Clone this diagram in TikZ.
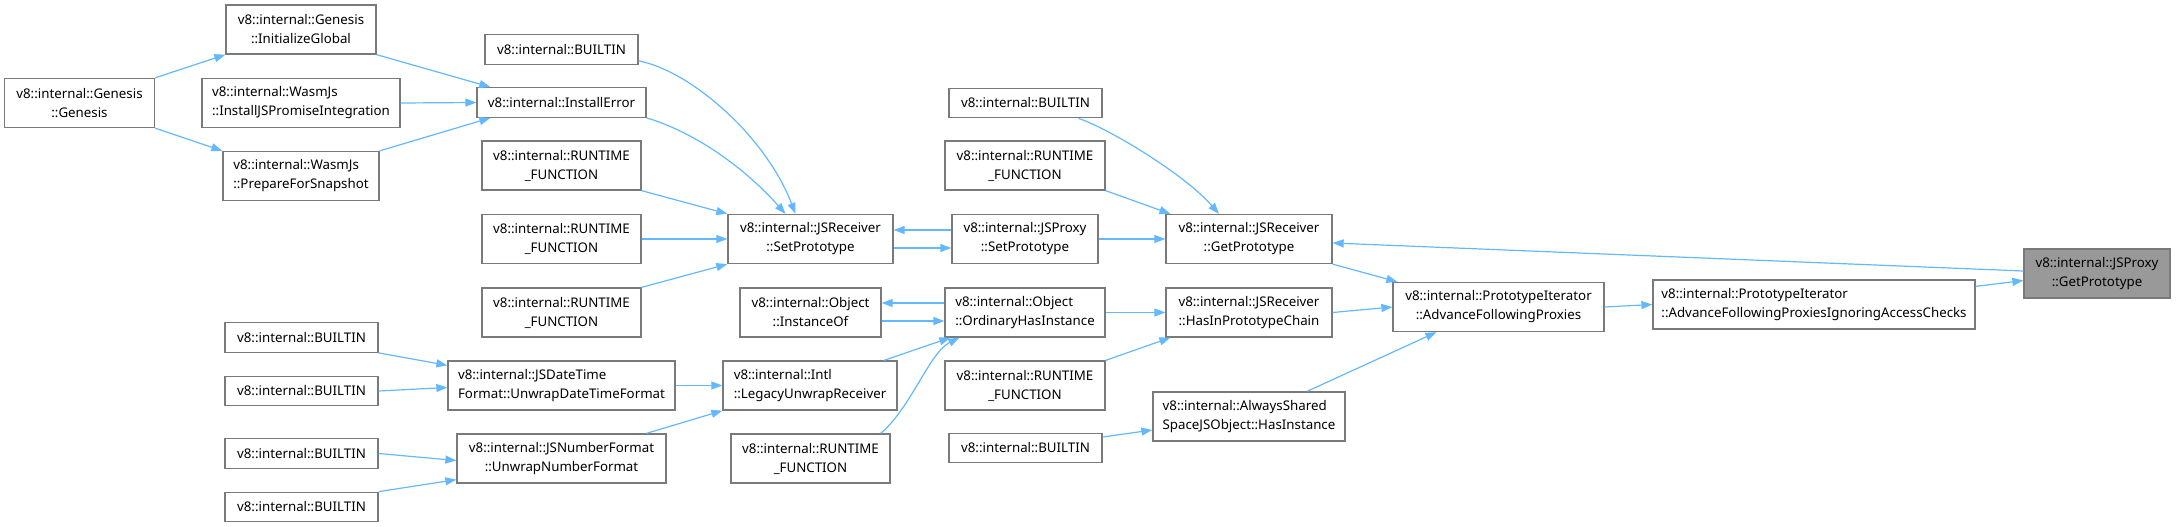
\documentclass[tikz,border=0pt]{standalone}
\usepackage{fontspec}
\setmainfont{Noto Sans}
\usetikzlibrary{arrows.meta}
\definecolor{azulflecha}{HTML}{63B8FF}
\definecolor{bordenodo}{HTML}{7A7A7A}
\definecolor{raiz}{HTML}{999999}

\begin{document}
\begin{tikzpicture}[x=1pt, y=-1pt,
    caja/.style={draw=bordenodo, line width=1.3pt, fill=white, inner sep=0pt,
        font=\fontsize{13.3}{19}\selectfont, align=center, minimum height=49pt},
    caja1/.style={caja, minimum height=29.5pt},
    izq/.style={align=left},
    llamada/.style={draw=azulflecha, line width=1.2pt, -{Triangle[length=11pt,width=8pt]}}]
    \useasboundingbox (0,0) rectangle (2176,527);

    % Columna de Genesis
    \node[caja, minimum width=150pt] (gen) at (79.5,103) {v8::internal::Genesis\\::Genesis};
    \node[caja, minimum width=150pt] (initg) at (301,29.5) {v8::internal::Genesis\\::InitializeGlobal};
    \node[caja, izq, minimum width=198pt] (instjs) at (301,103) {v8::internal::WasmJs\\::InstallJSPromiseIntegration};
    \node[caja, izq, minimum width=156pt] (prep) at (301,176) {v8::internal::WasmJs\\::PrepareForSnapshot};

    % Builtins de la izquierda
    \node[caja1, minimum width=153pt] (bia) at (301.5,337.5) {v8::internal::BUILTIN};
    \node[caja1, minimum width=153pt] (bib) at (301.5,391) {v8::internal::BUILTIN};
    \node[caja1, minimum width=153pt] (bic) at (301.5,453.5) {v8::internal::BUILTIN};
    \node[caja1, minimum width=153pt] (bid) at (301.5,507) {v8::internal::BUILTIN};

    % Segunda columna
    \node[caja1, minimum width=153pt] (bi1) at (561.5,49.5) {v8::internal::BUILTIN};
    \node[caja1, minimum width=169pt] (insterr) at (561.5,102.5) {v8::internal::InstallError};
    \node[caja, minimum width=159pt] (rt1) at (561.5,165.5) {v8::internal::RUNTIME\\\_FUNCTION};
    \node[caja, minimum width=159pt] (rt2) at (561.5,239) {v8::internal::RUNTIME\\\_FUNCTION};
    \node[caja, minimum width=159pt] (rt3) at (561.5,312.5) {v8::internal::RUNTIME\\\_FUNCTION};
    \node[caja, izq, minimum width=227pt] (dtf) at (561.5,385.5) {v8::internal::JSDateTime\\Format::UnwrapDateTimeFormat};
    \node[caja, minimum width=209pt] (nf) at (561.5,458.5) {v8::internal::JSNumberFormat\\::UnwrapNumberFormat};

    % Tercera columna
    \node[caja, minimum width=165pt] (setp) at (810.5,239) {v8::internal::JSReceiver\\::SetPrototype};
    \node[caja, minimum width=141pt] (inst) at (810.5,312.5) {v8::internal::Object\\::InstanceOf};
    \node[caja, izq, minimum width=174pt] (legacy) at (810,385.5) {v8::internal::Intl\\::LegacyUnwrapReceiver};
    \node[caja, minimum width=159pt] (rtb) at (810.5,458.5) {v8::internal::RUNTIME\\\_FUNCTION};

    % Cuarta columna
    \node[caja1, minimum width=153pt] (bigp) at (1025.5,103) {v8::internal::BUILTIN};
    \node[caja, minimum width=160pt] (rtgp) at (1025,165.5) {v8::internal::RUNTIME\\\_FUNCTION};
    \node[caja, minimum width=146pt] (jpset) at (1025,239) {v8::internal::JSProxy\\::SetPrototype};
    \node[caja, izq, minimum width=160pt] (ord) at (1025,312.5) {v8::internal::Object\\::OrdinaryHasInstance};
    \node[caja, minimum width=160pt] (rthas) at (1025,385.5) {v8::internal::RUNTIME\\\_FUNCTION};
    \node[caja1, minimum width=153pt] (bias) at (1025.5,448) {v8::internal::BUILTIN};

    % Quinta columna
    \node[caja, minimum width=166pt] (getp) at (1249,239) {v8::internal::JSReceiver\\::GetPrototype};
    \node[caja, minimum width=166pt] (hasin) at (1249,312.5) {v8::internal::JSReceiver\\::HasInPrototypeChain};
    \node[caja, izq, minimum width=192pt] (always) at (1249,416.5) {v8::internal::AlwaysShared\\SpaceJSObject::HasInstance};

    % Iterador y nodo raiz
    \node[caja, minimum width=211pt] (adv) at (1498.5,307) {v8::internal::PrototypeIterator\\::AdvanceFollowingProxies};
    \node[caja, izq, minimum width=322pt] (ign) at (1814,304.5) {v8::internal::PrototypeIterator\\::AdvanceFollowingProxiesIgnoringAccessChecks};
    \node[caja, fill=raiz, minimum width=146pt] (root) at (2097,273.5) {v8::internal::JSProxy\\::GetPrototype};

    % Llamadas hacia InstallError
    \draw[llamada] (gen.north east) -- (initg.south west);
    \draw[llamada] (gen.south east) -- (prep.north west);
    \draw[llamada] (initg.south east) -- ([xshift=14pt]insterr.north west);
    \draw[llamada] (instjs.east) -- (insterr.west);
    \draw[llamada] (prep.north east) -- ([xshift=14pt]insterr.south west);

    % Llamadas hacia JSReceiver::SetPrototype
    \draw[llamada] ([yshift=4pt]bi1.south east) .. controls +(52,10) and +(-30,-78) .. ([xshift=-15pt]setp.north);
    \draw[llamada] (insterr.south east) .. controls +(50,15) and +(-40,-45) .. ([xshift=-25pt]setp.north);
    \draw[llamada] (rt1.south east) -- (setp.north west);
    \draw[llamada] (rt2.east) -- (setp.west);
    \draw[llamada] (rt3.north east) -- (setp.south west);
    \draw[llamada] ([yshift=9pt]jpset.west) -- ([yshift=9pt]setp.east);
    \draw[llamada] ([yshift=-9pt]setp.east) -- ([yshift=-9pt]jpset.west);

    % Llamadas hacia JSReceiver::GetPrototype
    \draw[llamada] (jpset.east) -- (getp.west);
    \draw[llamada] ([xshift=53pt]bigp.south) .. controls +(30,10) and +(-35,-40) .. ([xshift=-30pt]getp.north);
    \draw[llamada] (rtgp.south east) -- ([xshift=5pt]getp.north west);
    \draw[llamada] ([yshift=2.5pt]root.west) -- ([yshift=-4pt]getp.east);

    % Builtins hacia los formatos
    \draw[llamada] (bia.south east) -- ([yshift=-5pt]dtf.north west);
    \draw[llamada] (bib.east) -- ([yshift=-2pt]dtf.west);
    \draw[llamada] (bic.east) -- ([yshift=-2pt]nf.west);
    \draw[llamada] (bid.north east) -- ([yshift=4pt]nf.south west);
    \draw[llamada] (dtf.east) -- (legacy.west);
    \draw[llamada] ([xshift=85pt]nf.north) -- (legacy.south west);

    % Llamadas hacia OrdinaryHasInstance
    \draw[llamada] ([yshift=9.5pt]ord.west) -- ([yshift=9.5pt]inst.east);
    \draw[llamada] ([yshift=-8.5pt]inst.east) -- ([yshift=-8.5pt]ord.west);
    \draw[llamada] ([xshift=74pt]legacy.north) -- ([xshift=6pt]ord.south west);
    \draw[llamada] ([xshift=-10pt]rtb.north east) .. controls +(30,-25) and +(-30,15) .. ([xshift=15pt]ord.south west);

    % Hacia HasInPrototypeChain y AlwaysShared
    \draw[llamada] (ord.east) -- (hasin.west);
    \draw[llamada] (rthas.north east) -- ([xshift=5pt]hasin.south west);
    \draw[llamada] ([yshift=11pt]bias.east) -- ([yshift=-13.5pt]always.west);

    % Hacia el iterador y la raiz
    \draw[llamada] (getp.south east) -- ([xshift=5pt]adv.north west);
    \draw[llamada] (hasin.east) -- (adv.west);
    \draw[llamada] ([xshift=58pt]always.north) -- ([xshift=-62pt]adv.south);
    \draw[llamada] (adv.east) -- (ign.west);
    \draw[llamada] ([yshift=-7pt]ign.north east) -- ([yshift=-7pt]root.west);
\end{tikzpicture}
\end{document}
